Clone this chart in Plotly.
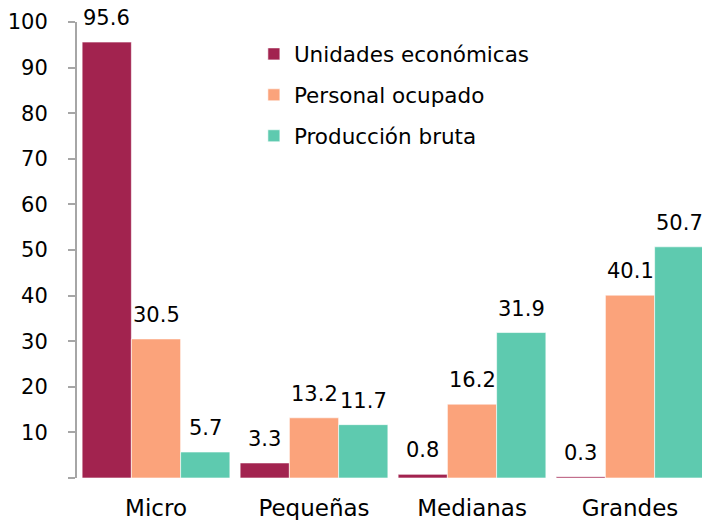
import plotly.graph_objects as go

### Data ###
categorias   = ['Micro', 'Pequeñas', 'Medianas', 'Grandes']
unidades     = [95.6, 3.3, 0.8, 0.3]
personal     = [30.5, 13.2, 16.2, 40.1]
produccion   = [5.7, 11.7, 31.9, 50.7]

serieNombres = ['Unidades económicas', 'Personal ocupado', 'Producción bruta']
serieValores = [unidades, personal, produccion]
serieColores = ['#A2234F', '#FBA37B', '#5ECAAF']

yTicks       = list(range(0, 101, 10))
yTickText    = [''] + [str(v) for v in yTicks[1:]]

fuente       = 'DejaVu Sans'
barGap       = 0.065

fig = go.Figure()

for i, (nombre, valores, color) in enumerate(zip(serieNombres, serieValores, serieColores)):
    fig.add_trace(go.Bar(
        x           = categorias,
        y           = valores,
        name        = nombre,
        marker      = dict(color=color, line=dict(width=0.6, color='white')),
        legendgroup = 'g' + str(i),
    ))

# value labels above each bar
barW = (1 - barGap) / len(serieNombres)
for i, valores in enumerate(serieValores):
    for j, v in enumerate(valores):
        fig.add_annotation(
            x         = j + (i - 1) * barW,
            y         = v,
            xref      = 'x',
            yref      = 'y',
            text      = str(v),
            showarrow = False,
            yanchor   = 'bottom',
            yshift    = 10,
            font      = dict(family=fuente, size=21, color='black'),
        )

fig.update_layout(
    width         = 702,
    height        = 520,
    margin        = dict(l=77, r=0, t=22, b=42),
    barmode       = 'group',
    bargap        = barGap,
    bargroupgap   = 0,
    paper_bgcolor = 'white',
    plot_bgcolor  = 'white',
    font          = dict(family=fuente, size=21, color='black'),
    legend        = dict(x=0.283, y=0.975, xanchor='left', yanchor='top',
                         font=dict(family=fuente, size=21.5, color='black'),
                         tracegroupgap=10, bgcolor='rgba(0,0,0,0)'),
    showlegend    = True,
)

fig.update_yaxes(range=[0, 100], tickvals=yTicks, ticktext=yTickText,
                 showline=True, linewidth=2, linecolor='#A6A6A6',
                 ticks='outside', ticklen=7, tickwidth=2, tickcolor='#A6A6A6',
                 ticklabelstandoff=16, showgrid=False, zeroline=False,
                 tickfont=dict(family=fuente, size=21, color='black'))
fig.update_xaxes(range=[-0.5, -0.5 + 625 / 158], showline=False, ticks='',
                 showgrid=False, zeroline=False, ticklabelstandoff=14,
                 tickfont=dict(family=fuente, size=23, color='black'))

# drop the default page margin so the figure fills the window exactly
fig.write_html("out.html",
               config={'displayModeBar': False},
               post_script="document.body.style.margin='0';document.body.style.overflow='hidden';")
